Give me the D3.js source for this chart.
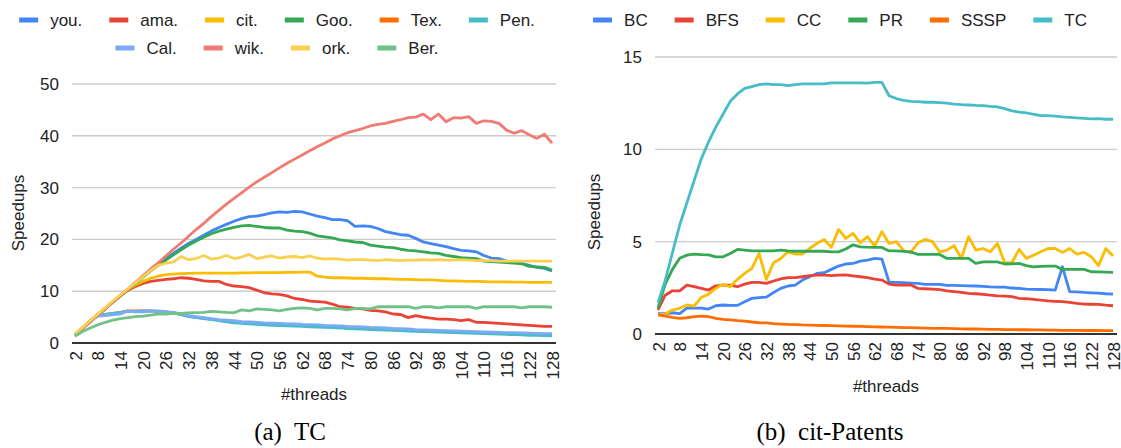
<!DOCTYPE html>
<html>
<head>
<meta charset="utf-8">
<script src="https://cdn.jsdelivr.net/npm/d3@7"></script>
<style>
    html, body { margin: 0; padding: 0; background: #fff; }
    svg text { font-family: "Liberation Sans", Arial, sans-serif; }
    .caption { font-family: "Liberation Serif", "Times New Roman", serif !important; white-space: pre; }
</style>
</head>
<body>
<svg id="chart" width="1121" height="448"></svg>
<script>
// thread counts (x categories) and the labels shown on the axis
const threads = [2, 4, 6, 8, 10, 12, 14, 16, 18, 20, 22, 24, 26, 28, 30, 32, 34, 36, 38, 40, 42, 44, 46, 48, 50, 52, 54, 56, 58, 60, 62, 64,
    66, 68, 70, 72, 74, 76, 78, 80, 82, 84, 86, 88, 90, 92, 94, 96, 98, 100, 102, 104, 106, 108, 110, 112, 114, 116, 118, 120, 122, 124, 126, 128];
const threadTicks = [2, 8, 14, 20, 26, 32, 38, 44, 50, 56, 62, 68, 74, 80, 86, 92, 98, 104, 110, 116, 122, 128];

// (a) TC on different graphs
const tcNames = ['you.', 'ama.', 'cit.', 'Goo.', 'Tex.', 'Pen.', 'Cal.', 'wik.', 'ork.', 'Ber.'];
const tcYou = [1.6, 2.8, 4.1, 5.4, 6.6, 7.9, 9.2, 10.4, 11.6, 12.9, 14.1, 15.2, 16.3, 17.3, 18.3, 19.2, 20.0, 20.8, 21.6, 22.3,
    22.9, 23.5, 24.0, 24.4, 24.5, 24.8, 25.1, 25.3, 25.2, 25.4, 25.3, 24.9, 24.5, 24.2, 23.8, 23.8, 23.6, 22.5, 22.6, 22.5,
    22.1, 21.5, 21.2, 20.9, 20.8, 20.2, 19.5, 19.2, 18.9, 18.6, 18.2, 17.9, 17.8, 17.6, 16.9, 16.4, 16.3, 15.8, 15.6, 15.4,
    15.0, 14.6, 14.4, 13.9];
const tcAma = [1.6, 2.8, 4.1, 5.4, 6.6, 7.9, 9.1, 10.2, 10.9, 11.5, 11.9, 12.1, 12.3, 12.4, 12.6, 12.5, 12.3, 12.0, 11.9, 11.9,
    11.3, 11.0, 10.9, 10.7, 10.2, 9.7, 9.5, 9.4, 9.1, 8.6, 8.4, 8.1, 8.0, 7.9, 7.5, 7.0, 6.9, 6.7, 6.6, 6.3,
    6.2, 6.0, 5.6, 5.5, 4.9, 5.3, 5.0, 4.8, 4.6, 4.6, 4.5, 4.3, 4.5, 4.0, 4.0, 3.9, 3.8, 3.7, 3.6, 3.5,
    3.4, 3.3, 3.2, 3.2];
const tcCit = [1.7, 3.0, 4.3, 5.6, 6.8, 8.0, 9.2, 10.3, 11.2, 11.9, 12.5, 12.9, 13.2, 13.3, 13.4, 13.45, 13.5, 13.5, 13.5, 13.5,
    13.5, 13.5, 13.55, 13.55, 13.6, 13.6, 13.6, 13.6, 13.65, 13.65, 13.7, 13.7, 12.9, 12.7, 12.6, 12.6, 12.55, 12.5, 12.5, 12.45,
    12.4, 12.4, 12.35, 12.3, 12.3, 12.25, 12.2, 12.2, 12.1, 12.0, 12.0, 11.95, 11.9, 11.9, 11.85, 11.8, 11.8, 11.8, 11.75, 11.75,
    11.7, 11.7, 11.7, 11.7];
const tcGoo = [1.6, 2.8, 4.1, 5.4, 6.6, 7.9, 9.1, 10.3, 11.5, 12.7, 13.9, 15.0, 16.0, 17.0, 18.0, 18.9, 19.7, 20.4, 21.1, 21.6,
    22.0, 22.3, 22.6, 22.7, 22.5, 22.3, 22.2, 22.2, 21.8, 21.6, 21.5, 21.2, 20.7, 20.5, 20.3, 19.9, 19.7, 19.5, 19.4, 18.9,
    18.7, 18.5, 18.4, 18.1, 17.9, 17.8, 17.6, 17.4, 17.3, 16.9, 16.7, 16.5, 16.4, 16.3, 15.8, 15.7, 15.6, 15.5, 15.4, 15.3,
    14.8, 14.7, 14.6, 14.1];
const tcTex = [1.5, 2.9, 4.3, 5.3, 5.5, 5.7, 5.9, 6.2, 6.2, 6.2, 6.2, 6.1, 6.0, 5.8, 5.5, 5.2, 5.0, 4.8, 4.6, 4.4,
    4.25, 4.1, 3.95, 3.85, 3.75, 3.65, 3.6, 3.5, 3.45, 3.4, 3.35, 3.3, 3.2, 3.15, 3.1, 3.05, 3.0, 2.9, 2.85, 2.8,
    2.7, 2.65, 2.6, 2.55, 2.5, 2.45, 2.4, 2.3, 2.25, 2.2, 2.15, 2.1, 2.05, 2.0, 1.95, 1.9, 1.85, 1.8, 1.75, 1.7,
    1.7, 1.65, 1.6, 1.6];
const tcPen = [1.5, 2.9, 4.3, 5.3, 5.5, 5.7, 5.9, 6.1, 6.1, 6.2, 6.2, 6.1, 6.0, 5.8, 5.5, 5.1, 4.9, 4.7, 4.5, 4.3,
    4.1, 3.9, 3.8, 3.7, 3.6, 3.5, 3.4, 3.35, 3.3, 3.25, 3.2, 3.1, 3.05, 3.0, 2.95, 2.9, 2.8, 2.75, 2.7, 2.6,
    2.55, 2.5, 2.45, 2.4, 2.3, 2.25, 2.2, 2.15, 2.1, 2.05, 2.0, 1.95, 1.9, 1.85, 1.8, 1.75, 1.7, 1.65, 1.6, 1.55,
    1.5, 1.5, 1.45, 1.4];
const tcCal = [1.4, 2.9, 4.3, 5.2, 5.3, 5.5, 5.6, 6.2, 6.0, 6.0, 6.1, 6.2, 6.0, 5.9, 5.6, 5.3, 5.1, 4.9, 4.7, 4.5,
    4.4, 4.3, 4.1, 4.05, 4.0, 3.9, 3.85, 3.8, 3.7, 3.7, 3.6, 3.55, 3.5, 3.4, 3.35, 3.3, 3.2, 3.15, 3.1, 3.0,
    2.95, 2.9, 2.8, 2.75, 2.7, 2.6, 2.55, 2.5, 2.45, 2.4, 2.35, 2.3, 2.25, 2.2, 2.15, 2.1, 2.05, 2.0, 2.0, 1.95,
    1.9, 1.85, 1.8, 1.8];
const tcWik = [1.6, 2.8, 4.1, 5.4, 6.6, 7.9, 9.2, 10.4, 11.7, 13.0, 14.3, 15.5, 16.8, 18.1, 19.3, 20.6, 21.9, 23.1, 24.4, 25.6,
    26.8, 27.9, 29.0, 30.1, 31.1, 32.0, 32.9, 33.8, 34.7, 35.5, 36.3, 37.1, 37.9, 38.6, 39.4, 40.0, 40.6, 41.0, 41.4, 41.9,
    42.2, 42.4, 42.8, 43.1, 43.5, 43.6, 44.2, 43.1, 44.2, 42.7, 43.5, 43.4, 43.7, 42.4, 42.9, 42.8, 42.4, 41.1, 40.5, 41.0,
    40.2, 39.5, 40.3, 38.6];
const tcOrk = [1.7, 3.0, 4.3, 5.6, 6.8, 8.1, 9.3, 10.5, 11.6, 12.8, 14.0, 15.0, 15.4, 15.6, 16.7, 16.1, 16.3, 16.9, 16.2, 16.4,
    16.9, 16.3, 16.6, 17.1, 16.3, 16.6, 16.8, 16.4, 16.6, 16.7, 16.5, 16.8, 16.4, 16.2, 16.3, 16.2, 16.0, 16.1, 16.1, 16.0,
    15.9, 16.1, 16.0, 15.9, 16.0, 16.0, 16.1, 16.0, 16.1, 16.0, 16.0, 16.1, 16.0, 15.9, 15.9, 15.9, 15.8, 15.8, 15.8, 15.8,
    15.8, 15.8, 15.8, 15.8];
const tcBer = [1.3, 2.2, 2.9, 3.5, 4.0, 4.4, 4.7, 4.9, 5.1, 5.2, 5.4, 5.6, 5.6, 5.7, 5.7, 5.8, 5.85, 5.9, 6.1, 6.0,
    5.9, 5.85, 6.4, 6.2, 6.6, 6.5, 6.4, 6.2, 6.5, 6.7, 6.8, 6.7, 6.4, 6.7, 6.7, 6.6, 6.4, 6.7, 6.7, 6.6,
    7.0, 7.0, 7.0, 7.0, 7.0, 6.7, 7.0, 7.0, 6.8, 7.0, 7.0, 7.0, 7.0, 6.7, 7.0, 7.0, 7.0, 7.0, 7.0, 6.8,
    7.0, 7.0, 7.0, 6.9];

// (b) different algorithms on cit-Patents
const algoNames = ['BC', 'BFS', 'CC', 'PR', 'SSSP', 'TC'];
const citBC = [1.1, 1.1, 1.15, 1.1, 1.4, 1.4, 1.4, 1.35, 1.53, 1.57, 1.55, 1.55, 1.75, 1.93, 1.97, 2.0, 2.25, 2.47, 2.6, 2.65,
    2.92, 3.1, 3.28, 3.32, 3.5, 3.68, 3.79, 3.82, 3.95, 4.0, 4.09, 4.06, 2.8, 2.8, 2.78, 2.76, 2.74, 2.69, 2.69, 2.69,
    2.63, 2.63, 2.62, 2.61, 2.6, 2.58, 2.55, 2.54, 2.54, 2.49, 2.47, 2.43, 2.42, 2.41, 2.4, 2.38, 3.64, 2.29, 2.28, 2.25,
    2.23, 2.21, 2.18, 2.16];
const citBFS = [1.3, 2.1, 2.34, 2.34, 2.65, 2.56, 2.47, 2.38, 2.61, 2.65, 2.65, 2.56, 2.7, 2.8, 2.8, 2.74, 2.87, 2.98, 3.05, 3.05,
    3.1, 3.16, 3.19, 3.19, 3.16, 3.19, 3.2, 3.15, 3.1, 3.05, 2.97, 2.92, 2.7, 2.65, 2.65, 2.65, 2.47, 2.45, 2.43, 2.4,
    2.34, 2.3, 2.25, 2.2, 2.18, 2.15, 2.1, 2.07, 2.05, 2.02, 1.93, 1.91, 1.88, 1.83, 1.79, 1.77, 1.75, 1.71, 1.66, 1.62,
    1.61, 1.6, 1.56, 1.53];
const citCC = [1.03, 1.08, 1.3, 1.39, 1.57, 1.51, 1.98, 2.16, 2.47, 2.69, 2.56, 2.96, 3.28, 3.55, 4.36, 2.96, 3.86, 4.09, 4.45, 4.33,
    4.33, 4.63, 4.9, 5.12, 4.69, 5.66, 5.18, 5.45, 4.94, 5.27, 4.76, 5.54, 4.9, 5.0, 4.51, 4.42, 4.94, 5.12, 5.0, 4.45,
    4.54, 4.78, 4.09, 5.27, 4.54, 4.63, 4.45, 4.9, 3.86, 3.86, 4.58, 4.09, 4.27, 4.45, 4.63, 4.63, 4.42, 4.63, 4.33, 4.42,
    4.18, 3.7, 4.63, 4.22];
const citPR = [1.4, 2.7, 3.5, 4.1, 4.27, 4.33, 4.3, 4.28, 4.18, 4.18, 4.36, 4.58, 4.54, 4.5, 4.5, 4.5, 4.5, 4.54, 4.5, 4.48,
    4.48, 4.48, 4.48, 4.48, 4.45, 4.45, 4.6, 4.83, 4.72, 4.7, 4.69, 4.69, 4.5, 4.5, 4.47, 4.44, 4.31, 4.31, 4.31, 4.31,
    4.09, 4.09, 4.09, 4.09, 3.82, 3.91, 3.91, 3.91, 3.79, 3.8, 3.82, 3.7, 3.64, 3.66, 3.68, 3.68, 3.5, 3.5, 3.5, 3.5,
    3.37, 3.36, 3.35, 3.34];
const citSSSP = [1.03, 0.97, 0.9, 0.85, 0.88, 0.94, 0.97, 0.94, 0.85, 0.79, 0.76, 0.72, 0.7, 0.65, 0.61, 0.6, 0.56, 0.54, 0.52, 0.51,
    0.49, 0.48, 0.47, 0.46, 0.45, 0.44, 0.43, 0.42, 0.41, 0.4, 0.39, 0.38, 0.37, 0.36, 0.35, 0.34, 0.33, 0.32, 0.31, 0.3,
    0.3, 0.29, 0.28, 0.27, 0.27, 0.26, 0.25, 0.25, 0.24, 0.24, 0.23, 0.23, 0.22, 0.22, 0.21, 0.21, 0.2, 0.2, 0.2, 0.19,
    0.19, 0.19, 0.18, 0.18];
const citTC = [1.7, 2.9, 4.4, 5.9, 7.1, 8.3, 9.5, 10.4, 11.2, 11.9, 12.6, 13.0, 13.3, 13.4, 13.5, 13.55, 13.5, 13.5, 13.45, 13.5,
    13.55, 13.55, 13.55, 13.55, 13.6, 13.6, 13.6, 13.6, 13.6, 13.58, 13.63, 13.63, 12.9, 12.75, 12.65, 12.6, 12.58, 12.55, 12.55, 12.53,
    12.5, 12.45, 12.42, 12.4, 12.38, 12.37, 12.33, 12.3, 12.2, 12.08, 12.02, 11.98, 11.9, 11.83, 11.82, 11.8, 11.76, 11.73, 11.7, 11.68,
    11.65, 11.66, 11.63, 11.63];

// google sheets palette
const palette = ['#4285f4', '#ea4335', '#fbbc04', '#34a853', '#ff6d01', '#46bdc6', '#7baaf7', '#f07b72', '#fcd04f', '#71c287'];

const svg = d3.select('#chart');
const FONT = 17;

function drawPanel(cfg) {
    const g = svg.append('g');

    const x = d3.scalePoint().domain(threads).range([cfg.left + 3, cfg.right - 4]);
    const y = d3.scaleLinear().domain([0, cfg.yMax]).range([cfg.bottom, cfg.top]);

    // gridlines
    g.selectAll('.grid')
        .data(cfg.yTicks.filter(t => t > 0))
        .enter()
        .append('line')
        .attr('x1', cfg.left).attr('x2', cfg.right)
        .attr('y1', d => y(d)).attr('y2', d => y(d))
        .attr('stroke', '#cccccc')
        .attr('stroke-width', 1.4);

    // y axis labels
    const yAxis = g.append('g')
        .attr('transform', `translate(${cfg.left},0)`)
        .call(d3.axisLeft(y).tickValues(cfg.yTicks).tickSize(0).tickPadding(13));
    yAxis.select('.domain').remove();
    yAxis.selectAll('text')
        .style('font-size', FONT + 'px')
        .style('font-family', '"Liberation Sans", Arial, sans-serif')
        .attr('fill', '#222');

    // x axis labels, rotated
    const xAxis = g.append('g')
        .attr('transform', `translate(0,${cfg.bottom})`)
        .call(d3.axisBottom(x).tickValues(threadTicks).tickSize(0));
    xAxis.select('.domain').remove();
    xAxis.selectAll('text')
        .attr('transform', 'rotate(-90)')
        .attr('x', -8)
        .attr('y', 0)
        .attr('dy', '0.36em')
        .style('text-anchor', 'end')
        .style('font-size', FONT + 'px')
        .style('font-family', '"Liberation Sans", Arial, sans-serif')
        .attr('fill', '#222');

    // series lines
    const line = d3.line()
        .x((d, i) => x(threads[i]))
        .y(d => y(d));

    cfg.series.forEach((values, k) => {
        g.append('path')
            .datum(values)
            .attr('d', line)
            .attr('fill', 'none')
            .attr('stroke', palette[k])
            .attr('stroke-width', 2.8)
            .attr('stroke-linejoin', 'round');
    });

    // baseline
    g.append('line')
        .attr('x1', cfg.left).attr('x2', cfg.right)
        .attr('y1', cfg.bottom).attr('y2', cfg.bottom)
        .attr('stroke', '#333')
        .attr('stroke-width', 2);

    // axis titles
    g.append('text')
        .attr('transform', `translate(${cfg.yTitleX},${cfg.yTitleY}) rotate(-90)`)
        .attr('text-anchor', 'middle')
        .attr('dy', '0.35em')
        .style('font-size', FONT + 'px')
        .attr('fill', '#222')
        .text('Speedups');

    g.append('text')
        .attr('x', (cfg.left + cfg.right) / 2)
        .attr('y', cfg.xTitleY)
        .attr('text-anchor', 'middle')
        .attr('dy', '0.35em')
        .style('font-size', FONT + 'px')
        .attr('fill', '#222')
        .text('#threads');

    // legend rows, centered
    cfg.legendRows.forEach((row, r) => {
        const lg = g.append('g');
        let cursor = 0;
        row.forEach(idx => {
            const item = lg.append('g').attr('transform', `translate(${cursor},0)`);
            item.append('rect')
                .attr('x', 0).attr('y', -2.5)
                .attr('width', 19).attr('height', 5)
                .attr('fill', palette[idx]);
            const t = item.append('text')
                .attr('x', 31)
                .attr('dy', '0.35em')
                .style('font-size', FONT + 'px')
                .attr('fill', '#222')
                .text(cfg.names[idx]);
            cursor += 31 + t.node().getComputedTextLength() + 27;
        });
        const width = cursor - 27;
        lg.attr('transform', `translate(${cfg.legendCenter - width / 2},${cfg.legendY[r]})`);
    });

    // caption
    svg.append('text')
        .attr('class', 'caption')
        .attr('x', cfg.captionX)
        .attr('y', 440)
        .attr('text-anchor', 'middle')
        .style('font-size', '25px')
        .attr('fill', '#000')
        .text(cfg.caption);
}

drawPanel({
    left: 72, right: 556, top: 84, bottom: 343,
    yMax: 50, yTicks: [0, 10, 20, 30, 40, 50],
    series: [tcYou, tcAma, tcCit, tcGoo, tcTex, tcPen, tcCal, tcWik, tcOrk, tcBer],
    names: tcNames,
    legendRows: [[0, 1, 2, 3, 4, 5], [6, 7, 8, 9]],
    legendY: [20, 48],
    legendCenter: 277,
    yTitleX: 18, yTitleY: 213,
    xTitleY: 394,
    caption: '(a)  TC', captionX: 290
});

drawPanel({
    left: 655, right: 1117, top: 57, bottom: 334,
    yMax: 15, yTicks: [0, 5, 10, 15],
    series: [citBC, citBFS, citCC, citPR, citSSSP, citTC],
    names: algoNames,
    legendRows: [[0, 1, 2, 3, 4, 5]],
    legendY: [20],
    legendCenter: 840,
    yTitleX: 594, yTitleY: 212,
    xTitleY: 386,
    caption: '(b)  cit-Patents', captionX: 830
});
</script>
</body>
</html>
